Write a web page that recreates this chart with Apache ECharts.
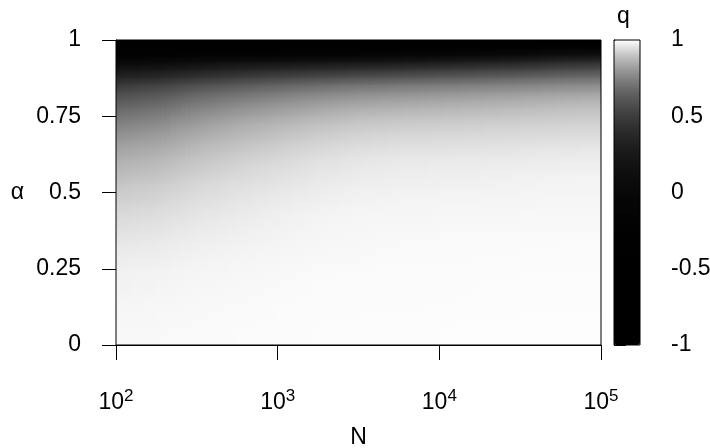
<!DOCTYPE html>
<html>
<head>
<meta charset="utf-8">
<script src="https://cdn.jsdelivr.net/npm/echarts@6/dist/echarts.min.js"></script>
<style>
html,body{margin:0;padding:0;background:#fff;}
#chart{width:710px;height:448px;}
</style>
</head>
<body>
<div id="chart"></div>
<script>
// log10(N) at cell centres
const logN = [2.125, 2.375, 2.625, 2.875, 3.125, 3.375, 3.625, 3.875, 4.125, 4.375, 4.625, 4.875];
// alpha at cell centres (top to bottom)
const alpha = [0.9875, 0.9625, 0.9375, 0.9125, 0.8875, 0.8625, 0.8375, 0.8125, 0.7875, 0.7625,
  0.7375, 0.7125, 0.6875, 0.6625, 0.6375, 0.6125, 0.5875, 0.5625, 0.5375, 0.5125,
  0.4875, 0.4625, 0.4375, 0.4125, 0.3875, 0.3625, 0.3375, 0.3125, 0.2875, 0.2625,
  0.2375, 0.2125, 0.1875, 0.1625, 0.1375, 0.1125, 0.0875, 0.0625, 0.0375, 0.0125];
// q values, one row per alpha, one column per logN
const qRows = [
  [-0.5,-0.5,-0.5,-0.5,-0.5,-0.5,-0.5,-0.5,-0.5,-0.5,-0.5,-0.5],
  [-0.4,-0.4,-0.4,-0.4,-0.4,-0.4,-0.39,-0.35,-0.3,-0.25,-0.2,-0.13],
  [-0.2,-0.14,-0.1,-0.06,-0.04,-0.01,0.01,0.06,0.11,0.16,0.21,0.29],
  [0.12,0.19,0.24,0.28,0.31,0.34,0.36,0.38,0.41,0.44,0.47,0.51],
  [0.29,0.36,0.42,0.46,0.49,0.52,0.54,0.56,0.58,0.60,0.62,0.65],
  [0.43,0.5,0.555,0.59,0.625,0.654,0.672,0.683,0.696,0.71,0.724,0.742],
  [0.536,0.6,0.646,0.68,0.71,0.735,0.751,0.759,0.769,0.779,0.789,0.803],
  [0.598,0.66,0.705,0.737,0.766,0.79,0.805,0.812,0.82,0.829,0.838,0.849],
  [0.648,0.706,0.749,0.78,0.807,0.83,0.844,0.85,0.857,0.864,0.872,0.882],
  [0.69,0.745,0.785,0.814,0.839,0.861,0.873,0.878,0.883,0.888,0.893,0.9],
  [0.726,0.778,0.815,0.843,0.867,0.888,0.899,0.902,0.906,0.909,0.913,0.918],
  [0.758,0.805,0.84,0.865,0.887,0.906,0.916,0.918,0.921,0.924,0.927,0.931],
  [0.787,0.83,0.861,0.884,0.903,0.92,0.93,0.932,0.934,0.937,0.94,0.943],
  [0.81,0.849,0.878,0.898,0.917,0.932,0.941,0.942,0.945,0.947,0.949,0.952],
  [0.831,0.867,0.893,0.912,0.929,0.943,0.951,0.952,0.954,0.956,0.958,0.961],
  [0.849,0.882,0.906,0.924,0.939,0.952,0.959,0.961,0.962,0.964,0.966,0.968],
  [0.866,0.896,0.917,0.933,0.947,0.959,0.965,0.966,0.968,0.969,0.97,0.972],
  [0.878,0.905,0.925,0.94,0.953,0.964,0.969,0.971,0.972,0.974,0.976,0.978],
  [0.894,0.917,0.935,0.947,0.958,0.967,0.972,0.974,0.975,0.977,0.979,0.981],
  [0.905,0.926,0.942,0.953,0.963,0.972,0.976,0.977,0.978,0.979,0.98,0.982],
  [0.915,0.934,0.948,0.959,0.967,0.975,0.979,0.98,0.981,0.982,0.983,0.984],
  [0.924,0.941,0.954,0.963,0.972,0.979,0.982,0.983,0.984,0.984,0.985,0.986],
  [0.933,0.948,0.96,0.968,0.975,0.981,0.984,0.985,0.985,0.986,0.986,0.987],
  [0.94,0.954,0.964,0.971,0.978,0.983,0.986,0.987,0.987,0.988,0.988,0.989],
  [0.947,0.959,0.968,0.974,0.98,0.985,0.987,0.988,0.988,0.989,0.989,0.99],
  [0.952,0.963,0.971,0.977,0.982,0.987,0.989,0.99,0.99,0.991,0.991,0.992],
  [0.959,0.968,0.975,0.979,0.984,0.987,0.989,0.99,0.99,0.991,0.991,0.992],
  [0.965,0.972,0.978,0.982,0.985,0.988,0.99,0.991,0.991,0.992,0.993,0.994],
  [0.969,0.975,0.98,0.983,0.986,0.989,0.99,0.991,0.992,0.992,0.993,0.994],
  [0.974,0.979,0.983,0.986,0.989,0.991,0.992,0.992,0.993,0.993,0.994,0.994],
  [0.976,0.981,0.984,0.987,0.989,0.991,0.992,0.993,0.993,0.994,0.994,0.995],
  [0.978,0.983,0.986,0.989,0.991,0.993,0.994,0.994,0.994,0.995,0.995,0.995],
  [0.979,0.984,0.987,0.989,0.991,0.993,0.994,0.994,0.994,0.995,0.995,0.995],
  [0.982,0.986,0.988,0.99,0.992,0.993,0.994,0.994,0.994,0.995,0.995,0.995],
  [0.984,0.987,0.989,0.991,0.992,0.994,0.994,0.994,0.995,0.995,0.995,0.995],
  [0.986,0.988,0.99,0.991,0.993,0.994,0.994,0.994,0.995,0.995,0.995,0.995],
  [0.986,0.988,0.99,0.991,0.993,0.994,0.994,0.995,0.995,0.996,0.996,0.997],
  [0.987,0.989,0.991,0.992,0.994,0.995,0.995,0.995,0.996,0.996,0.996,0.997],
  [0.989,0.991,0.992,0.993,0.994,0.995,0.995,0.995,0.996,0.996,0.996,0.997],
  [0.989,0.99,0.992,0.993,0.994,0.995,0.995,0.995,0.996,0.996,0.996,0.997]
];
const xTicks = [2, 3, 4, 5];
const yTicks = [0, 0.25, 0.5, 0.75, 1];
const qTicks = [-1, -0.5, 0, 0.5, 1];

const FONT = "'Liberation Sans', Arial, sans-serif";
const FS = 23;

const nR = alpha.length, nC = logN.length;
const data = [];
alpha.forEach((a, i) => logN.forEach((x, j) => data.push([x, a, qRows[i][j]])));
const dx = logN[1] - logN[0];
const dy = alpha[0] - alpha[1];

// grey palette (steep, gamma-like) for the colour scale
const palette = [];
for (let i = 0; i <= 40; i++) {
  const g = Math.round(255 * Math.pow(i / 40, 5));
  palette.push('rgb(' + g + ',' + g + ',' + g + ')');
}

function mix(c1, c2, t) {
  return [0, 1, 2].map(k => c1[k] + (c2[k] - c1[k]) * t);
}
function css(c) {
  return 'rgb(' + Math.round(c[0]) + ',' + Math.round(c[1]) + ',' + Math.round(c[2]) + ')';
}

const SLICES = 8;

const chart = echarts.init(document.getElementById('chart'), null, {renderer: 'canvas'});
const labelStyle = {color: '#000', fontSize: FS, fontFamily: FONT};
chart.setOption({
  backgroundColor: '#fff',
  animation: false,
  title: {text: 'q', left: 617, top: 5, padding: 0,
    textStyle: {color: '#000', fontSize: FS, fontFamily: FONT, fontWeight: 'normal'}},
  grid: [
    {left: 116, top: 40, width: 485, height: 305, show: true, borderColor: '#000', borderWidth: 1, z: 5,
      backgroundColor: 'transparent', outerBoundsMode: 'none', containLabel: false},
    {left: 614, top: 40, width: 26, height: 305, show: true, borderColor: '#000', borderWidth: 1, z: 6,
      backgroundColor: 'transparent', outerBoundsMode: 'none', containLabel: false}
  ],
  xAxis: [
    {gridIndex: 0, type: 'value', min: xTicks[0], max: xTicks[xTicks.length - 1], interval: 1,
      axisLine: {show: true, lineStyle: {color: '#000', width: 1}},
      axisTick: {show: true, length: 15, lineStyle: {color: '#000', width: 1}},
      splitLine: {show: false},
      axisLabel: Object.assign({}, labelStyle, {margin: 43,
        formatter: v => '10{s|' + v + '}',
        rich: {s: {fontSize: 17, fontFamily: FONT, color: '#000', verticalAlign: 'bottom', padding: [0, 0, 13, 0]}}}),
      name: 'N', nameLocation: 'middle', nameGap: 81, nameTextStyle: labelStyle},
    {gridIndex: 1, type: 'value', show: false, min: 0, max: 1}
  ],
  yAxis: [
    {gridIndex: 0, type: 'value', min: yTicks[0], max: yTicks[yTicks.length - 1], interval: 0.25,
      axisLine: {show: true, lineStyle: {color: '#000', width: 1}},
      axisTick: {show: true, length: 14, lineStyle: {color: '#000', width: 1}},
      splitLine: {show: false},
      axisLabel: Object.assign({}, labelStyle, {margin: 35}),
      name: 'α', nameLocation: 'middle', nameRotate: 0, nameGap: 92, nameTextStyle: labelStyle},
    {gridIndex: 1, type: 'value', position: 'right', min: qTicks[0], max: qTicks[qTicks.length - 1], interval: 0.5,
      axisLine: {show: true, lineStyle: {color: '#000', width: 1}},
      axisTick: {show: true, length: 12, lineStyle: {color: '#000', width: 1}},
      splitLine: {show: false},
      axisLabel: Object.assign({}, labelStyle, {margin: 31})}
  ],
  visualMap: {
    type: 'continuous', min: -1, max: 1, dimension: 2, seriesIndex: 0,
    calculable: false, left: 614, top: 40, itemWidth: 26, itemHeight: 305, padding: 0,
    text: null, showLabel: false, inRange: {color: palette}, hoverLink: false
  },
  series: [{
    type: 'custom', xAxisIndex: 0, yAxisIndex: 0, clip: true,
    data: data,
    encode: {x: 0, y: 1},
    renderItem: function (params, api) {
      const idx = params.dataIndexInside;
      const i = Math.floor(idx / nC), j = idx % nC;
      const col = (ii, jj) => {
        ii = Math.max(0, Math.min(nR - 1, ii));
        jj = Math.max(0, Math.min(nC - 1, jj));
        return echarts.color.parse(api.visual('color', ii * nC + jj));
      };
      const corner = (di, dj) => {
        const cs = [col(i, j), col(i + di, j), col(i, j + dj), col(i + di, j + dj)];
        return [0, 1, 2].map(k => (cs[0][k] + cs[1][k] + cs[2][k] + cs[3][k]) / 4);
      };
      const TL = corner(-1, -1), TR = corner(-1, 1), BL = corner(1, -1), BR = corner(1, 1);
      const x = api.value(0), y = api.value(1);
      const p0 = api.coord([x - dx / 2, y + dy / 2]);
      const p1 = api.coord([x + dx / 2, y - dy / 2]);
      const w = p1[0] - p0[0];
      const yTop = Math.floor(p0[1]), yBot = Math.ceil(p1[1]);
      const children = [];
      for (let s = 0; s < SLICES; s++) {
        const t = (s + 0.5) / SLICES;
        const xa = Math.floor(p0[0] + w * s / SLICES);
        const xb = Math.ceil(p0[0] + w * (s + 1) / SLICES);
        const top = css(mix(TL, TR, t)), bot = css(mix(BL, BR, t));
        children.push({
          type: 'rect',
          shape: {x: xa, y: yTop, width: xb - xa, height: yBot - yTop},
          style: {
            fill: {type: 'linear', x: 0, y: 0, x2: 0, y2: 1,
              colorStops: [{offset: 0, color: top}, {offset: 1, color: bot}]},
            stroke: null
          }
        });
      }
      return {type: 'group', children: children};
    }
  }]
});
</script>
</body>
</html>
